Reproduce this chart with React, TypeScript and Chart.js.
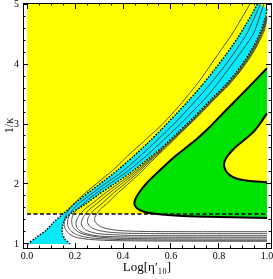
import React, { useEffect, useRef } from 'react';
import { Chart, registerables } from 'chart.js';

Chart.register(...registerables);

// ---- axes ----
const xRange = [-0.0167, 1.0167];
const yRange = [0.9333, 5.0167];
const xMajorTicks = [0, 0.2, 0.4, 0.6, 0.8, 1.0];
const xTickLabels = ['0.0', '0.2', '0.4', '0.6', '0.8', '1.0'];
const xMinorTicks = [0.05, 0.1, 0.15, 0.25, 0.3, 0.35, 0.45, 0.5, 0.55, 0.65, 0.7, 0.75, 0.85, 0.9, 0.95];
const yMajorTicks = [1, 2, 3, 4, 5];
const yTickLabels = ['1', '2', '3', '4', '5'];
const yMinorTicks = [1.2, 1.4, 1.6, 1.8, 2.2, 2.4, 2.6, 2.8, 3.2, 3.4, 3.6, 3.8, 4.2, 4.4, 4.6, 4.8];
const xTitle = 'Log[η′₁₀]';
const yTitle = '1/κ';

// ---- regions ----
const yellowRegion = [[0, 1.5], [0, 5], [1, 5], [1, 1.5]];
const greenBoundary = [[1.0, 3.93], [0.93, 3.64], [0.854, 3.33], [0.8, 3.11], [0.754, 2.92], [0.71, 2.76], [0.67, 2.63], [0.62, 2.47], [0.575, 2.31], [0.535, 2.16], [0.5, 2.02], [0.475, 1.9], [0.458, 1.8], [0.449, 1.72], [0.448, 1.66], [0.455, 1.61], [0.47, 1.565], [0.5, 1.525], [0.55, 1.495], [0.6, 1.478], [0.7, 1.46], [0.8, 1.45], [0.9, 1.442], [1.0, 1.435]];
const islandBoundary = [[1.0, 3.18], [0.97, 3.0], [0.942, 2.86], [0.91, 2.75], [0.885, 2.67], [0.86, 2.58], [0.84, 2.49], [0.827, 2.41], [0.821, 2.34], [0.823, 2.27], [0.832, 2.2], [0.848, 2.14], [0.87, 2.095], [0.9, 2.065], [0.94, 2.045], [1.0, 2.03]];
const bandLeft = [[0.004, 1.0], [0.035, 1.1], [0.08, 1.23], [0.11, 1.36], [0.15, 1.5], [0.2, 1.68], [0.26, 1.87], [0.32, 2.05], [0.38, 2.24], [0.44, 2.45], [0.5, 2.67], [0.56, 2.91], [0.62, 3.16], [0.68, 3.42], [0.73, 3.65], [0.78, 3.9], [0.83, 4.16], [0.875, 4.42], [0.915, 4.68], [0.94, 4.85], [0.96, 5.0]];
const bandRight = [[0.18, 1.0], [0.158, 1.08], [0.147, 1.18], [0.148, 1.3], [0.16, 1.42], [0.19, 1.53], [0.245, 1.67], [0.3, 1.83], [0.36, 1.99], [0.425, 2.17], [0.49, 2.37], [0.56, 2.6], [0.63, 2.86], [0.7, 3.13], [0.77, 3.42], [0.825, 3.64], [0.87, 3.85], [0.91, 4.07], [0.945, 4.3], [0.975, 4.55], [0.995, 4.8], [1.0, 4.92]];
const dashedBoundary = [[0, 1.5], [1, 1.5]];

// ---- contour lines ----
const contour0 = [[0.929, 5.0], [0.858, 4.52], [0.785, 4.1], [0.721, 3.73], [0.638, 3.32], [0.565, 3.0], [0.492, 2.73], [0.42, 2.47], [0.358, 2.23], [0.3, 2.04], [0.245, 1.86], [0.2, 1.69], [0.175, 1.57], [0.161, 1.47], [0.155, 1.38], [0.155, 1.31], [0.16, 1.25], [0.17, 1.19], [0.187, 1.14], [0.21, 1.105], [0.25, 1.08], [0.32, 1.062], [0.42, 1.053], [0.55, 1.049], [0.7, 1.047], [0.85, 1.046], [1.0, 1.045]];
const contour1 = [[0.973, 5.0], [0.915, 4.5], [0.83, 4.0], [0.728, 3.5], [0.612, 3.0], [0.481, 2.5], [0.395, 2.2], [0.324, 2.0], [0.257, 1.8], [0.218, 1.68], [0.19, 1.57], [0.175, 1.47], [0.169, 1.38], [0.17, 1.31], [0.176, 1.25], [0.188, 1.2], [0.205, 1.16], [0.23, 1.125], [0.27, 1.1], [0.33, 1.082], [0.42, 1.071], [0.55, 1.066], [0.75, 1.063], [1.0, 1.062]];
const contour2 = [[0.987, 5.0], [0.943, 4.5], [0.855, 4.0], [0.759, 3.5], [0.639, 3.0], [0.506, 2.5], [0.415, 2.2], [0.343, 2.0], [0.273, 1.8], [0.237, 1.68], [0.207, 1.57], [0.19, 1.47], [0.186, 1.39], [0.188, 1.32], [0.196, 1.26], [0.21, 1.21], [0.23, 1.17], [0.26, 1.14], [0.3, 1.115], [0.36, 1.1], [0.45, 1.09], [0.6, 1.085], [0.8, 1.083], [1.0, 1.083]];
const contour3 = [[0.997, 4.8], [0.978, 4.55], [0.948, 4.3], [0.913, 4.07], [0.873, 3.85], [0.829, 3.64], [0.774, 3.42], [0.704, 3.13], [0.634, 2.86], [0.565, 2.6], [0.498, 2.37], [0.437, 2.17], [0.376, 1.99], [0.32, 1.83], [0.27, 1.67], [0.238, 1.57], [0.218, 1.48], [0.207, 1.4], [0.204, 1.33], [0.208, 1.27], [0.22, 1.22], [0.24, 1.18], [0.27, 1.15], [0.31, 1.13], [0.37, 1.12], [0.47, 1.114], [0.62, 1.112], [0.8, 1.112], [1.0, 1.112]];
const contour4 = [[0.999, 4.79], [0.981, 4.55], [0.951, 4.3], [0.916, 4.07], [0.876, 3.85], [0.832, 3.64], [0.777, 3.42], [0.707, 3.13], [0.637, 2.86], [0.568, 2.6], [0.504, 2.37], [0.447, 2.17], [0.39, 1.99], [0.337, 1.83], [0.29, 1.67], [0.258, 1.57], [0.24, 1.48], [0.229, 1.4], [0.226, 1.34], [0.231, 1.29], [0.243, 1.24], [0.262, 1.205], [0.29, 1.178], [0.33, 1.16], [0.39, 1.148], [0.48, 1.141], [0.62, 1.138], [0.8, 1.138], [1.0, 1.138]];
const contour5 = [[1.0, 4.78], [0.984, 4.55], [0.955, 4.3], [0.92, 4.07], [0.88, 3.85], [0.835, 3.64], [0.78, 3.42], [0.71, 3.13], [0.64, 2.86], [0.572, 2.6], [0.51, 2.37], [0.457, 2.17], [0.404, 1.99], [0.355, 1.83], [0.311, 1.67], [0.28, 1.57], [0.263, 1.49], [0.253, 1.42], [0.252, 1.36], [0.258, 1.31], [0.27, 1.27], [0.29, 1.235], [0.318, 1.21], [0.36, 1.19], [0.42, 1.179], [0.52, 1.174], [0.68, 1.172], [0.85, 1.172], [1.0, 1.172]];
const contour6 = [[1.0, 4.75], [0.988, 4.55], [0.958, 4.3], [0.923, 4.07], [0.883, 3.85], [0.838, 3.64], [0.783, 3.42], [0.713, 3.13], [0.643, 2.86], [0.577, 2.6], [0.517, 2.37], [0.468, 2.17], [0.418, 1.99], [0.373, 1.83], [0.332, 1.67], [0.305, 1.58], [0.29, 1.5], [0.282, 1.43], [0.283, 1.38], [0.292, 1.33], [0.307, 1.29], [0.33, 1.258], [0.36, 1.235], [0.4, 1.22], [0.46, 1.211], [0.55, 1.207], [0.7, 1.205], [0.85, 1.205], [1.0, 1.205]];

const YELLOW = '#ffff00';
const GREEN = 'rgb(0,226,0)';
const CYAN = 'rgb(10,232,250)';
const FONT = 'Liberation Serif';

const pts = (a: number[][]) => a.map(([x, y]) => ({ x, y }));

function regionSet(data: number[][], color: string, order: number, tension: number) {
  return {
    data: pts(data),
    backgroundColor: color,
    borderColor: 'rgba(0,0,0,0)',
    borderWidth: 0,
    fill: 'shape',
    pointRadius: 0,
    tension,
    clip: false,
    order,
  };
}

function lineSet(data: number[][], color: string, width: number, dash: number[], order: number, tension: number) {
  return {
    data: pts(data),
    borderColor: color,
    backgroundColor: color,
    borderWidth: width,
    borderDash: dash,
    fill: false,
    pointRadius: 0,
    tension,
    order,
  };
}

function tickAxis(axis: string, position: any, values: number[], len: number, border: boolean) {
  const range = axis === 'x' ? xRange : yRange;
  return {
    type: 'linear',
    axis,
    position,
    min: range[0],
    max: range[1],
    display: true,
    afterBuildTicks: (s: any) => {
      s.ticks = values.map((v) => ({ value: v }));
    },
    ticks: { display: false, autoSkip: false },
    grid: { display: true, drawOnChartArea: false, drawTicks: true, tickLength: len, tickColor: '#000', tickWidth: 1, z: 2 },
    border: { display: border, color: '#000', width: 1, z: 2 },
  };
}

export default function App() {
  const ref = useRef<HTMLCanvasElement | null>(null);

  useEffect(() => {
    if (!ref.current) return;
    const cyanPolygon = [...bandLeft, ...[...bandRight].reverse()];
    const contours = [contour0, contour1, contour2, contour3, contour4, contour5, contour6];
    const chart = new Chart(ref.current, {
      type: 'line',
      data: {
        datasets: [
          regionSet(yellowRegion, YELLOW, 20, 0),
          regionSet(greenBoundary, GREEN, 19, 0.2),
          regionSet(islandBoundary, YELLOW, 18, 0.2),
          lineSet(dashedBoundary, '#000', 1.5, [4, 2.5], 17, 0),
          regionSet(cyanPolygon, CYAN, 16, 0.2),
          lineSet(bandLeft, '#000', 1.5, [1.5, 1.5], 15, 0.2),
          lineSet(bandRight, '#000', 1.5, [1.5, 1.5], 15, 0.2),
          ...contours.map((c) => lineSet(c, '#3c3c3c', 0.9, [], 14, 0.2)),
          lineSet(greenBoundary, '#000', 2, [], 13, 0.2),
          lineSet(islandBoundary, '#000', 2, [], 13, 0.2),
        ] as any,
      },
      options: {
        animation: false,
        responsive: false,
        events: [],
        layout: { padding: { top: 3, right: 2, bottom: 0, left: 0 } },
        plugins: { legend: { display: false }, tooltip: { enabled: false } },
        scales: {
          x: {
            type: 'linear',
            position: 'bottom',
            min: xRange[0],
            max: xRange[1],
            afterBuildTicks: (s: any) => {
              s.ticks = xMajorTicks.map((v) => ({ value: v }));
            },
            afterFit: (s: any) => {
              s.height = 31;
              s.paddingLeft = 0;
              s.paddingRight = 0;
            },
            ticks: {
              autoSkip: false,
              maxRotation: 0,
              padding: 2,
              color: '#000',
              font: { family: FONT, size: 10 },
              callback: (_v: any, i: number) => xTickLabels[i],
            },
            grid: { display: false, drawTicks: false },
            border: { display: true, color: '#000', width: 1, z: 2 },
            title: { display: true, text: xTitle, color: '#000', font: { family: FONT, size: 13 }, padding: { top: 0, bottom: 4 } },
          },
          y: {
            type: 'linear',
            position: 'left',
            min: yRange[0],
            max: yRange[1],
            afterBuildTicks: (s: any) => {
              s.ticks = yMajorTicks.map((v) => ({ value: v }));
            },
            afterFit: (s: any) => {
              s.width = 23;
              s.paddingTop = 0;
              s.paddingBottom = 0;
            },
            ticks: {
              autoSkip: false,
              padding: 4,
              color: '#000',
              font: { family: FONT, size: 10 },
              callback: (_v: any, i: number) => yTickLabels[i],
            },
            grid: { display: false, drawTicks: false },
            border: { display: true, color: '#000', width: 1, z: 2 },
            title: { display: true, text: yTitle, color: '#000', font: { family: FONT, size: 12 }, padding: { top: 3, bottom: 0 } },
          },
          xBotMaj: tickAxis('x', { y: yRange[0] }, xMajorTicks, -5, false),
          xBotMin: tickAxis('x', { y: yRange[0] }, xMinorTicks, -2.5, false),
          xTopMaj: tickAxis('x', { y: yRange[1] }, xMajorTicks, 5, true),
          xTopMin: tickAxis('x', { y: yRange[1] }, xMinorTicks, 2.5, false),
          yLeftMaj: tickAxis('y', { x: xRange[0] }, yMajorTicks, -5, false),
          yLeftMin: tickAxis('y', { x: xRange[0] }, yMinorTicks, -2.5, false),
          yRightMaj: tickAxis('y', { x: xRange[1] }, yMajorTicks, 5, true),
          yRightMin: tickAxis('y', { x: xRange[1] }, yMinorTicks, 2.5, false),
        } as any,
      } as any,
    });
    return () => chart.destroy();
  }, []);

  return (
    <div style={{ position: 'fixed', left: 0, top: 0, width: 273, height: 279, background: '#fff' }}>
      <canvas ref={ref} width={273} height={279} style={{ display: 'block' }} />
    </div>
  );
}
